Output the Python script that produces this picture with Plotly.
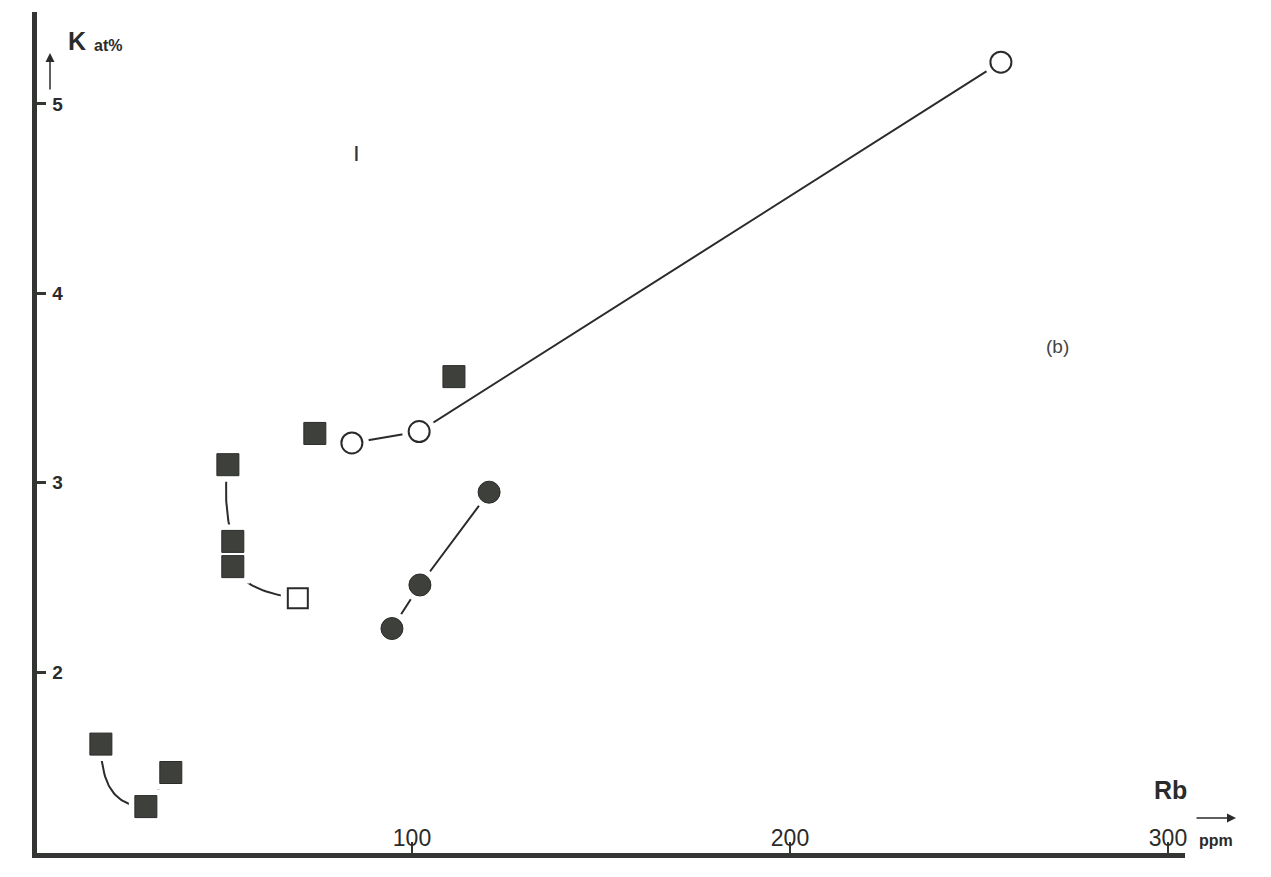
import numpy as np
import plotly.graph_objects as go

# ---- data ----
sq_filled_rb = [17.7, 29.6, 36.2, 51.3, 52.6, 52.6, 74.3, 111.1]
sq_filled_k  = [1.62, 1.29, 1.47, 3.095, 2.69, 2.557, 3.26, 3.56]
sq_open_rb = [69.8]
sq_open_k  = [2.39]
circ_open_rb = [84.1, 101.9, 255.8]
circ_open_k  = [3.21, 3.27, 5.22]
circ_filled_rb = [94.7, 102.1, 120.4]
circ_filled_k  = [2.23, 2.46, 2.95]

# curved connectors between squares: (start, end, bend)
curves = [
    ((sq_filled_rb[0], sq_filled_k[0]), (sq_filled_rb[1], sq_filled_k[1]), 1.0),
    ((sq_filled_rb[3], sq_filled_k[3]), (sq_filled_rb[4], sq_filled_k[4]), -0.35),
    ((sq_filled_rb[5], sq_filled_k[5]), (sq_open_rb[0], sq_open_k[0]), 0.6),
]
straight = [
    ((sq_filled_rb[1], sq_filled_k[1]), (sq_filled_rb[2], sq_filled_k[2])),
]

x_ticks = [100, 200, 300]
x_ticklabels = ["100", "200", "300"]
y_ticks = [2, 3, 4, 5]
y_ticklabels = ["2", "3", "4", "5"]

INK = "#333532"
FILL = "#3d403b"
fig = go.Figure()

def add_line(xs, ys):
    fig.add_trace(go.Scatter(x=xs, y=ys, mode="lines",
                             line=dict(color="#2b2b2b", width=2),
                             hoverinfo="skip", showlegend=False))

for (x0, y0), (x1, y1), b in curves:
    t = np.linspace(0, 1, 40)
    mx, my = (x0 + x1) / 2, (y0 + y1) / 2
    if b >= 0:
        cx, cy = mx + b * (x0 - mx), my + b * (y1 - my)
    else:
        cx, cy = mx + b * 6, my
    xs = (1 - t) ** 2 * x0 + 2 * (1 - t) * t * cx + t ** 2 * x1
    ys = (1 - t) ** 2 * y0 + 2 * (1 - t) * t * cy + t ** 2 * y1
    add_line(xs, ys)
for (x0, y0), (x1, y1) in straight:
    add_line([x0, x1], [y0, y1])
add_line(circ_open_rb, circ_open_k)
add_line(circ_filled_rb, circ_filled_k)

# white masks to create gaps between lines and markers
all_sq_x = sq_filled_rb + sq_open_rb
all_sq_y = sq_filled_k + sq_open_k
fig.add_trace(go.Scatter(x=all_sq_x, y=all_sq_y, mode="markers",
                         marker=dict(symbol="square", size=34, color="white"),
                         hoverinfo="skip", showlegend=False))
fig.add_trace(go.Scatter(x=circ_open_rb + circ_filled_rb, y=circ_open_k + circ_filled_k,
                         mode="markers",
                         marker=dict(symbol="circle", size=34, color="white"),
                         hoverinfo="skip", showlegend=False))

fig.add_trace(go.Scatter(x=sq_filled_rb, y=sq_filled_k, mode="markers",
                         marker=dict(symbol="square", size=22, color=FILL,
                                     line=dict(color="#2a2c29", width=1)),
                         showlegend=False))
fig.add_trace(go.Scatter(x=sq_open_rb, y=sq_open_k, mode="markers",
                         marker=dict(symbol="square", size=20, color="white",
                                     line=dict(color="#2a2a2a", width=2)),
                         showlegend=False))
fig.add_trace(go.Scatter(x=circ_open_rb, y=circ_open_k, mode="markers",
                         marker=dict(symbol="circle", size=21, color="white",
                                     line=dict(color="#2a2a2a", width=2)),
                         showlegend=False))
fig.add_trace(go.Scatter(x=circ_filled_rb, y=circ_filled_k, mode="markers",
                         marker=dict(symbol="circle", size=22, color=FILL,
                                     line=dict(color="#2a2c29", width=1)),
                         showlegend=False))

FONT = "Liberation Sans, Arial, Helvetica, sans-serif"
# page body adds an 8px offset; margins compensate so the plot area matches
fig.update_layout(
    width=1271, height=877,
    margin=dict(l=29, r=94, t=4, b=32),
    paper_bgcolor="white", plot_bgcolor="white",
    font=dict(family=FONT, color="#2b2b2b"),
    xaxis=dict(range=[0.8, 304.5], showgrid=False, zeroline=False,
               showline=True, linewidth=5, linecolor=INK,
               tickvals=x_ticks, ticktext=x_ticklabels,
               ticks="inside", ticklen=11, tickwidth=2, tickcolor=INK,
               ticklabelposition="inside", ticklabelstandoff=-7,
               ticklabeloverflow="allow",
               tickfont=dict(size=23, family=FONT, color="#2b2b2b")),
    yaxis=dict(range=[1.045, 5.485], showgrid=False, zeroline=False,
               showline=True, linewidth=5, linecolor=INK,
               tickvals=y_ticks, ticktext=y_ticklabels,
               ticks="inside", ticklen=9, tickwidth=3, tickcolor=INK,
               ticklabelposition="inside", ticklabelstandoff=7,
               ticklabeloverflow="allow",
               tickfont=dict(size=19, family=FONT, color="#2b2b2b", weight=700)),
)

def px(x):
    return (x - 37) / 1148

def py(y):
    return (853 - y) / 841

ann = [
    (77, 41, "<b>K</b>", 25, "#2b2b2b"),
    (108, 45, "<b>at%</b>", 16, "#2b2b2b"),
    (1170, 790, "<b>Rb</b>", 25, "#2b2b2b"),
    (1216, 840, "<b>ppm</b>", 16, "#2b2b2b"),
    (1057, 347, "(b)", 19, "#444444"),
    (356, 152, "<b>|</b>", 17, "#333333"),
]
for x, y, text, size, col in ann:
    fig.add_annotation(xref="paper", yref="paper", showarrow=False,
                       x=px(x), y=py(y), text=text,
                       xanchor="center", yanchor="middle",
                       font=dict(size=size, color=col, family=FONT))

# axis arrows
fig.add_annotation(xref="paper", yref="paper", axref="pixel", ayref="pixel",
                   x=px(50), y=py(53), ax=0, ay=38, text="", showarrow=True,
                   arrowhead=2, arrowsize=1.2, arrowwidth=1.5, arrowcolor="#2b2b2b")
fig.add_annotation(xref="paper", yref="paper", axref="pixel", ayref="pixel",
                   x=px(1236), y=py(818), ax=-41, ay=0, text="", showarrow=True,
                   arrowhead=2, arrowsize=1.2, arrowwidth=1.5, arrowcolor="#2b2b2b")

fig.write_html("out.html")
